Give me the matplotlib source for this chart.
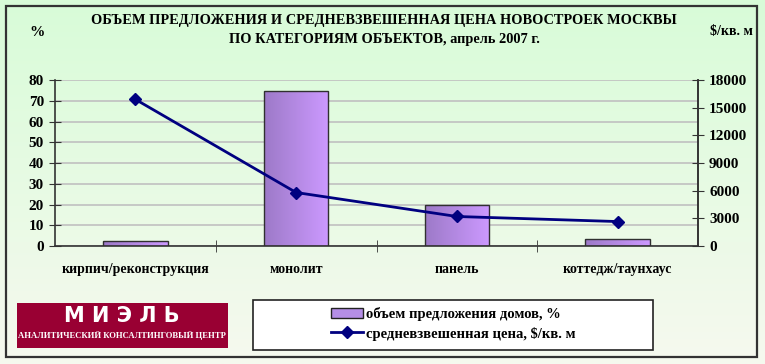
import matplotlib
matplotlib.use("Agg")
import matplotlib.pyplot as plt
import numpy as np
from matplotlib.colors import LinearSegmentedColormap
from matplotlib.patches import Rectangle
from matplotlib.lines import Line2D

# данные
categories = ["кирпич/реконструкция", "монолит", "панель", "коттедж/таунхаус"]
share_pct = [2.4, 74.5, 19.8, 3.5]          # объем предложения домов, %
price_usd = [15900, 5800, 3200, 2650]       # средневзвешенная цена, $/кв. м
left_ticks = [0, 10, 20, 30, 40, 50, 60, 70, 80]
right_ticks = [0, 3000, 6000, 9000, 12000, 15000, 18000]

title = ("ОБЪЕМ ПРЕДЛОЖЕНИЯ И СРЕДНЕВЗВЕШЕННАЯ ЦЕНА НОВОСТРОЕК МОСКВЫ\n"
         "ПО КАТЕГОРИЯМ ОБЪЕКТОВ, апрель 2007 г.")
bar_label = "объем предложения домов, %"
line_label = "средневзвешенная цена, $/кв. м"

serif = "Liberation Serif"
W, H = 765, 364

fig = plt.figure(figsize=(W / 100, H / 100), dpi=100)

# фон с градиентом
bg = fig.add_axes([0, 0, 1, 1], zorder=-10)
bg_cmap = LinearSegmentedColormap.from_list("bg", ["#d8fcd8", "#f6f9ef"])
bg.imshow(np.linspace(0, 1, 256).reshape(-1, 1), cmap=bg_cmap,
          aspect="auto", extent=[0, 1, 0, 1])
bg.set_xlim(0, 1)
bg.set_ylim(0, 1)
bg.axis("off")

# рамка вокруг всей картинки
fig.patches.append(Rectangle((6 / W, 1 - 357 / H), 751 / W, 351 / H,
                             transform=fig.transFigure, fill=False,
                             edgecolor="#333333", linewidth=1.6))

ax = fig.add_axes([55 / W, 1 - 246 / H, 643 / W, 166 / H])
ax.patch.set_alpha(0)
x = np.arange(len(categories))

bar_cmap = LinearSegmentedColormap.from_list("bar", ["#9d7ac8", "#cc99ff"])
bars = ax.bar(x, share_pct, width=0.4, color="none", edgecolor="#303030",
              linewidth=1.0, zorder=3)
for b in bars:
    x0, y0 = b.get_x(), b.get_y()
    im = ax.imshow(np.linspace(0, 1, 64).reshape(1, -1), cmap=bar_cmap,
                   aspect="auto", zorder=2.5,
                   extent=[x0, x0 + b.get_width(), y0, y0 + b.get_height()])
    im.set_clip_path(b)

ax.set_xlim(-0.5, len(categories) - 0.5)
ax.set_ylim(0, 80)
ax.set_yticks(left_ticks)
ax.set_yticklabels([str(t) for t in left_ticks])
ax.set_xticks(x)
ax.set_xticklabels(categories)
ax.set_xticks(x[:-1] + 0.5, minor=True)
ax.tick_params(axis="x", which="major", length=0, pad=12)
ax.tick_params(axis="x", which="minor", length=8, direction="inout",
               color="#333333")
ax.tick_params(axis="y", length=8, direction="inout", color="#333333", pad=4)
ax.yaxis.grid(True, color="#c0c0c0", linewidth=1.2, zorder=0)
ax.set_axisbelow(True)
ax.spines["top"].set_visible(False)
for side in ["left", "right", "bottom"]:
    ax.spines[side].set_color("#333333")
    ax.spines[side].set_linewidth(1.2)

for lab in ax.get_xticklabels():
    lab.set_fontfamily(serif)
    lab.set_fontweight("bold")
    lab.set_fontsize(10)
for lab in ax.get_yticklabels():
    lab.set_fontfamily(serif)
    lab.set_fontweight("bold")
    lab.set_fontsize(11)

ax2 = ax.twinx()
ax2.plot(x, price_usd, color="#000080", linewidth=2, marker="D",
         markersize=6, zorder=5)
ax2.set_ylim(0, 18000)
ax2.set_yticks(right_ticks)
ax2.tick_params(axis="y", length=8, direction="inout", color="#333333", pad=4)
for side in ["top", "left", "bottom"]:
    ax2.spines[side].set_visible(False)
ax2.spines["right"].set_color("#333333")
ax2.spines["right"].set_linewidth(1.2)
for lab in ax2.get_yticklabels():
    lab.set_fontfamily(serif)
    lab.set_fontweight("bold")
    lab.set_fontsize(11)

# заголовок и подписи осей
fig.text(384 / W, 1 - 30 / H, title, ha="center", va="center",
         fontfamily=serif, fontweight="bold", fontsize=10.4, linespacing=1.55)
fig.text(37 / W, 1 - 32 / H, "%", ha="center", va="center",
         fontfamily=serif, fontweight="bold", fontsize=11)
fig.text(753 / W, 1 - 31 / H, "$/кв. м", ha="right", va="center",
         fontfamily=serif, fontweight="bold", fontsize=10)

# логотип
fig.patches.append(Rectangle((17 / W, 1 - 348 / H), 211 / W, 45 / H,
                             transform=fig.transFigure, facecolor="#990033",
                             edgecolor="none"))
fig.text(122 / W, 1 - 316 / H, "М И Э Л Ь", ha="center", va="center",
         color="white", fontfamily="DejaVu Sans", fontweight="bold",
         fontsize=15)
fig.text(122 / W, 1 - 335 / H, "АНАЛИТИЧЕСКИЙ КОНСАЛТИНГОВЫЙ ЦЕНТР",
         ha="center", va="center", color="white", fontfamily=serif,
         fontweight="bold", fontsize=6.2)

# легенда
fig.patches.append(Rectangle((253 / W, 1 - 350 / H), 400 / W, 50 / H,
                             transform=fig.transFigure, facecolor="white",
                             edgecolor="#222222", linewidth=1.2))
handles = [Rectangle((0, 0), 1, 1, facecolor="#b48ee6", edgecolor="#222222"),
           Line2D([], [], color="#000080", linewidth=2, marker="D",
                  markersize=6)]
fig.legend(handles, [bar_label, line_label], loc="center",
           bbox_to_anchor=(453 / W, 1 - 324 / H), frameon=False,
           prop={"family": serif, "weight": "bold", "size": 10.5},
           handlelength=2.2, handletextpad=0.2, labelspacing=0.35)

fig.savefig("out.png", dpi=100)
